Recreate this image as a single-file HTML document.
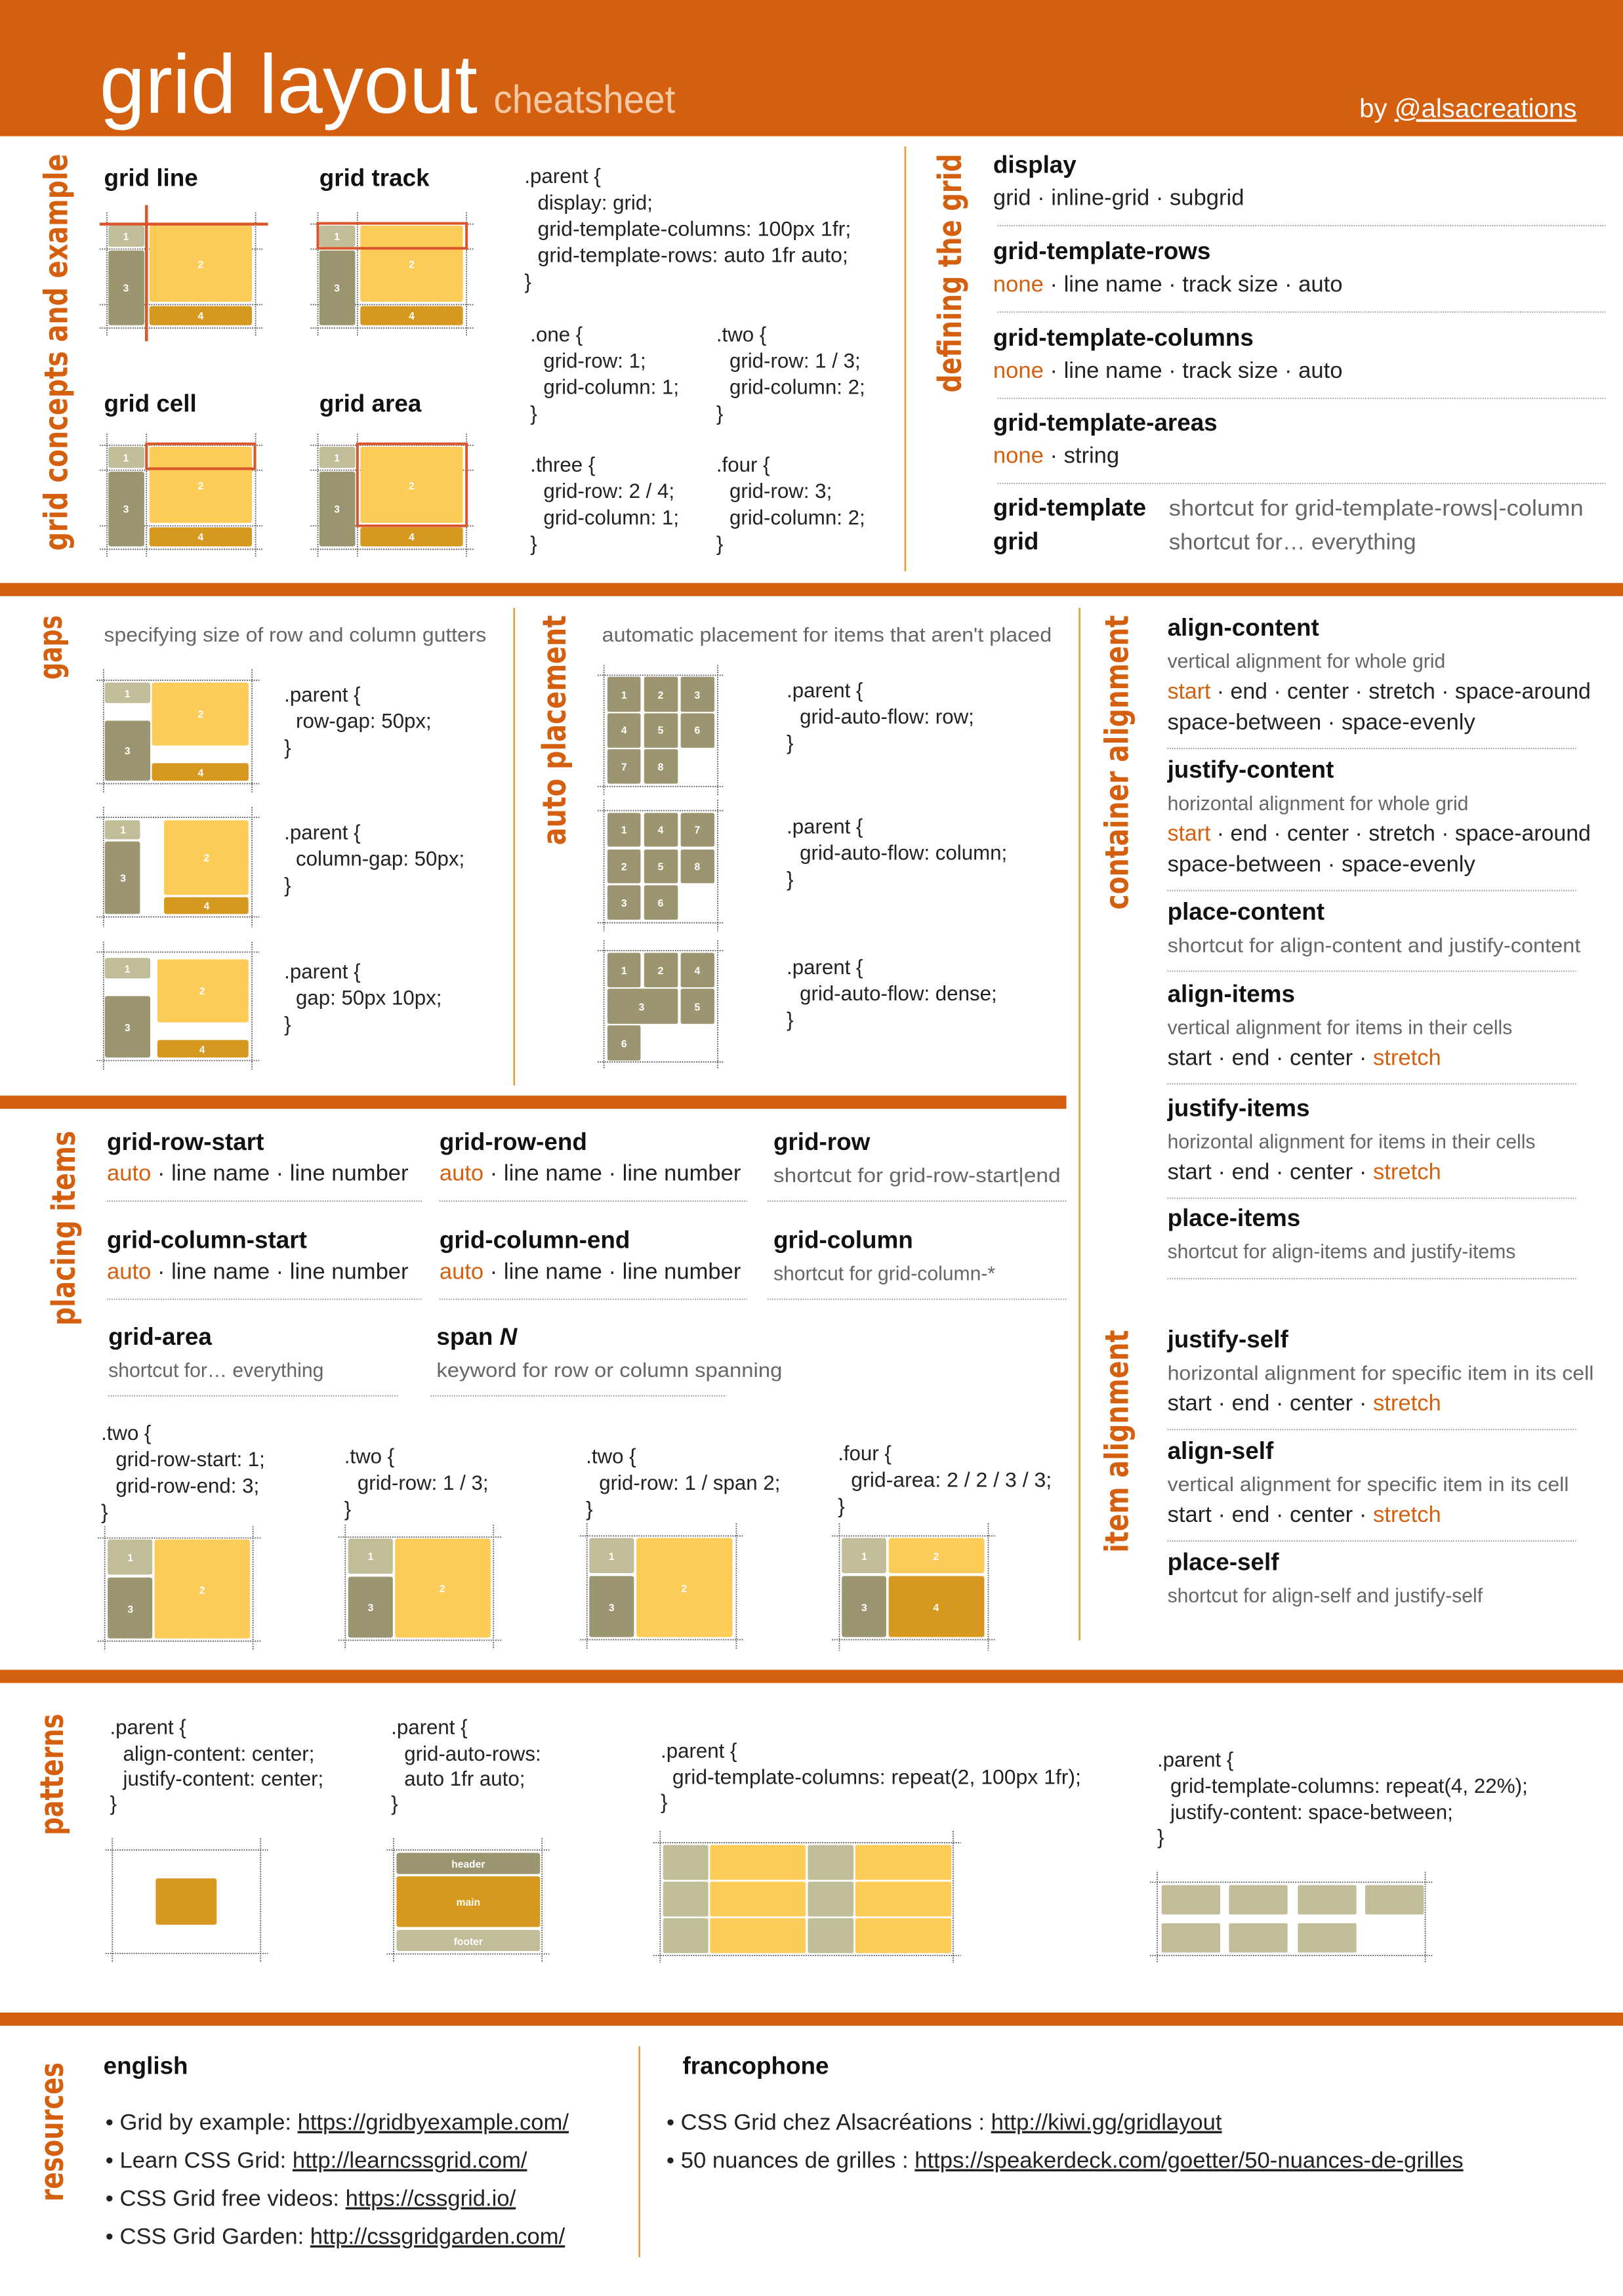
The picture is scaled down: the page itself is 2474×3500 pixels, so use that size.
<!DOCTYPE html>
<html><head><meta charset="utf-8"><style>
html,body{margin:0;padding:0;background:#fff;}
svg{display:block}
.h{font-family:"Liberation Sans",sans-serif;font-weight:bold;font-size:16.5px;fill:#111}
.v{font-family:"Liberation Sans",sans-serif;font-size:15.5px;fill:#222}
.d{font-family:"Liberation Sans",sans-serif;font-size:13.5px;fill:#666}
.c{font-family:"Liberation Sans",sans-serif;font-size:14px;fill:#222}
.o{fill:#d4600f}
.lab{font-family:"DejaVu Sans",sans-serif;font-weight:bold;font-size:22px;fill:#d4600f}
.n{font-family:"Liberation Sans",sans-serif;font-weight:bold;font-size:7px;fill:#fff;text-anchor:middle}
.dl{stroke:#555;stroke-width:0.8;stroke-dasharray:0.8 0.8;fill:none}
.sep{stroke:#888;stroke-width:0.8;stroke-dasharray:0.7 0.9;fill:none}
.a{fill:#c0bd98}.b{fill:#9b9570}.y{fill:#fdcb58}.m{fill:#d7981f}
.r{stroke:#d9562a;stroke-width:1.8;fill:none}
.dv{stroke:#e2a03c;stroke-width:1.2}
</style></head><body>
<svg width="2474" height="3500" viewBox="0 0 1108 1567.5" xmlns="http://www.w3.org/2000/svg">
<!-- header -->
<rect x="0" y="0" width="1108" height="93" fill="#d4600f"/>
<text x="68" y="77" font-family="Liberation Sans,sans-serif" font-size="57" fill="#fff" textLength="258" lengthAdjust="spacingAndGlyphs">grid layout</text>
<text x="337" y="77" font-family="Liberation Sans,sans-serif" font-size="27" fill="#f5c9a6" textLength="124" lengthAdjust="spacingAndGlyphs">cheatsheet</text>
<text x="928" y="80" font-family="Liberation Sans,sans-serif" font-size="18" fill="#fff">by <tspan text-decoration="underline">@alsacreations</tspan></text>

<!-- bars -->
<rect x="0" y="398" width="1108" height="9" fill="#d4600f"/>
<rect x="0" y="748" width="728" height="9" fill="#d4600f"/>
<rect x="0" y="1140" width="1108" height="9" fill="#d4600f"/>
<rect x="0" y="1374" width="1108" height="9" fill="#d4600f"/>

<!-- dividers -->
<line class="dv" x1="618" y1="100" x2="618" y2="390"/>
<line class="dv" x1="351" y1="415" x2="351" y2="741"/>
<line class="dv" x1="737" y1="415" x2="737" y2="1120"/>
<line class="dv" x1="436.5" y1="1397" x2="436.5" y2="1541"/>

<!-- vertical labels -->
<text class="lab" transform="translate(46,376) rotate(-90)" textLength="271" lengthAdjust="spacingAndGlyphs">grid concepts and example</text>
<text class="lab" transform="translate(656,268) rotate(-90)" textLength="163" lengthAdjust="spacingAndGlyphs">defining the grid</text>
<text class="lab" transform="translate(42,464) rotate(-90)" textLength="44" lengthAdjust="spacingAndGlyphs">gaps</text>
<text class="lab" transform="translate(386,577) rotate(-90)" textLength="157" lengthAdjust="spacingAndGlyphs">auto placement</text>
<text class="lab" transform="translate(770,621) rotate(-90)" textLength="201" lengthAdjust="spacingAndGlyphs">container alignment</text>
<text class="lab" transform="translate(770,1060) rotate(-90)" textLength="152" lengthAdjust="spacingAndGlyphs">item alignment</text>
<text class="lab" transform="translate(51,905) rotate(-90)" textLength="133" lengthAdjust="spacingAndGlyphs">placing items</text>
<text class="lab" transform="translate(43,1253) rotate(-90)" textLength="83" lengthAdjust="spacingAndGlyphs">patterns</text>
<text class="lab" transform="translate(43,1503) rotate(-90)" textLength="95" lengthAdjust="spacingAndGlyphs">resources</text>

<!-- concept diagrams -->
<text class="h" x="71" y="127">grid line</text>
<text class="h" x="218" y="127">grid track</text>
<text class="h" x="71" y="281">grid cell</text>
<text class="h" x="218" y="281">grid area</text>

<g id="c1">
<path class="dl" d="M73 145V229M100 145V229M174.5 145V229M68 153H180M68 170H180M68 208H180M68 224H180"/>
<rect class="a" x="74" y="154" width="24.5" height="14.5" rx="1.5"/><text class="n" x="86" y="164">1</text>
<rect class="y" x="102" y="154" width="70" height="52" rx="1.5"/><text class="n" x="137" y="183">2</text>
<rect class="b" x="74" y="171" width="24.5" height="51" rx="1.5"/><text class="n" x="86" y="199">3</text>
<rect class="m" x="102" y="209" width="70" height="13" rx="1.5"/><text class="n" x="137" y="218">4</text>
<path d="M100 140V233M68 153H183" stroke="#d9562a" stroke-width="2"/>
</g>
<g transform="translate(144,0)">
<path class="dl" d="M73 145V229M100 145V229M174.5 145V229M68 153H180M68 170H180M68 208H180M68 224H180"/>
<rect class="a" x="74" y="154" width="24.5" height="14.5" rx="1.5"/><text class="n" x="86" y="164">1</text>
<rect class="y" x="102" y="154" width="70" height="52" rx="1.5"/><text class="n" x="137" y="183">2</text>
<rect class="b" x="74" y="171" width="24.5" height="51" rx="1.5"/><text class="n" x="86" y="199">3</text>
<rect class="m" x="102" y="209" width="70" height="13" rx="1.5"/><text class="n" x="137" y="218">4</text>
<rect class="r" x="73" y="152.5" width="101.5" height="17"/>
</g>
<g transform="translate(0,151)">
<path class="dl" d="M73 145V229M100 145V229M174.5 145V229M68 153H180M68 170H180M68 208H180M68 224H180"/>
<rect class="a" x="74" y="154" width="24.5" height="14.5" rx="1.5"/><text class="n" x="86" y="164">1</text>
<rect class="y" x="102" y="154" width="70" height="52" rx="1.5"/><text class="n" x="137" y="183">2</text>
<rect class="b" x="74" y="171" width="24.5" height="51" rx="1.5"/><text class="n" x="86" y="199">3</text>
<rect class="m" x="102" y="209" width="70" height="13" rx="1.5"/><text class="n" x="137" y="218">4</text>
<rect class="r" x="100" y="152" width="74" height="17"/>
</g>
<g transform="translate(144,151)">
<path class="dl" d="M73 145V229M100 145V229M174.5 145V229M68 153H180M68 170H180M68 208H180M68 224H180"/>
<rect class="a" x="74" y="154" width="24.5" height="14.5" rx="1.5"/><text class="n" x="86" y="164">1</text>
<rect class="y" x="102" y="154" width="70" height="52" rx="1.5"/><text class="n" x="137" y="183">2</text>
<rect class="b" x="74" y="171" width="24.5" height="51" rx="1.5"/><text class="n" x="86" y="199">3</text>
<rect class="m" x="102" y="209" width="70" height="13" rx="1.5"/><text class="n" x="137" y="218">4</text>
<rect class="r" x="100" y="152" width="74.5" height="56"/>
</g>

<!-- concept code -->
<text class="c" x="358" y="125">.parent {</text>
<text class="c" x="367" y="143">display: grid;</text>
<text class="c" x="367" y="161" textLength="214" lengthAdjust="spacingAndGlyphs">grid-template-columns: 100px 1fr;</text>
<text class="c" x="367" y="179" textLength="212" lengthAdjust="spacingAndGlyphs">grid-template-rows: auto 1fr auto;</text>
<text class="c" x="358" y="197">}</text>
<text class="c" x="362" y="233">.one {</text>
<text class="c" x="371" y="251">grid-row: 1;</text>
<text class="c" x="371" y="269">grid-column: 1;</text>
<text class="c" x="362" y="287">}</text>
<text class="c" x="489" y="233">.two {</text>
<text class="c" x="498" y="251">grid-row: 1 / 3;</text>
<text class="c" x="498" y="269">grid-column: 2;</text>
<text class="c" x="489" y="287">}</text>
<text class="c" x="362" y="322">.three {</text>
<text class="c" x="371" y="340">grid-row: 2 / 4;</text>
<text class="c" x="371" y="358">grid-column: 1;</text>
<text class="c" x="362" y="376">}</text>
<text class="c" x="489" y="322">.four {</text>
<text class="c" x="498" y="340">grid-row: 3;</text>
<text class="c" x="498" y="358">grid-column: 2;</text>
<text class="c" x="489" y="376">}</text>

<!-- defining the grid -->
<text class="h" x="678" y="118">display</text>
<text class="v" x="678" y="140">grid · inline-grid · subgrid</text>
<line class="sep" x1="681" y1="154" x2="1096" y2="154"/>
<text class="h" x="678" y="177">grid-template-rows</text>
<text class="v" x="678" y="199"><tspan class="o">none</tspan> · line name · track size · auto</text>
<line class="sep" x1="681" y1="213" x2="1096" y2="213"/>
<text class="h" x="678" y="236">grid-template-columns</text>
<text class="v" x="678" y="258"><tspan class="o">none</tspan> · line name · track size · auto</text>
<line class="sep" x1="681" y1="272" x2="1096" y2="272"/>
<text class="h" x="678" y="294">grid-template-areas</text>
<text class="v" x="678" y="316"><tspan class="o">none</tspan> · string</text>
<line class="sep" x1="681" y1="330" x2="1096" y2="330"/>
<text class="h" x="678" y="352">grid-template</text>
<text class="v" x="798" y="352" fill="#666" style="fill:#666" textLength="283" lengthAdjust="spacingAndGlyphs">shortcut for grid-template-rows|-column</text>
<text class="h" x="678" y="375">grid</text>
<text class="v" x="798" y="375" style="fill:#666">shortcut for… everything</text>

<!-- gaps -->
<text class="d" x="71" y="438" textLength="261" lengthAdjust="spacingAndGlyphs">specifying size of row and column gutters</text>
<path class="dl" d="M70.7 457V541M172 457V541M66 464.4H177M66 535H177"/>
<rect class="a" x="71.6" y="466" width="31" height="14" rx="1.5"/><text class="n" x="87" y="476">1</text>
<rect class="y" x="103.7" y="466" width="66" height="43" rx="1.5"/><text class="n" x="137" y="490">2</text>
<rect class="b" x="71.6" y="492" width="31" height="41" rx="1.5"/><text class="n" x="87" y="515">3</text>
<rect class="m" x="103.7" y="521" width="66" height="12" rx="1.5"/><text class="n" x="137" y="530">4</text>
<text class="c" x="194" y="479">.parent {</text>
<text class="c" x="202" y="497">row-gap: 50px;</text>
<text class="c" x="194" y="515">}</text>

<path class="dl" d="M70.7 551V633M172 551V633M66 558H177M66 626H177"/>
<rect class="a" x="71.6" y="560" width="24" height="13" rx="1.5"/><text class="n" x="84" y="569">1</text>
<rect class="b" x="71.6" y="574.5" width="24" height="49.5" rx="1.5"/><text class="n" x="84" y="602">3</text>
<rect class="y" x="112" y="560" width="57.6" height="51" rx="1.5"/><text class="n" x="141" y="588">2</text>
<rect class="m" x="112" y="612.5" width="57.6" height="11.5" rx="1.5"/><text class="n" x="141" y="621">4</text>
<text class="c" x="194" y="573">.parent {</text>
<text class="c" x="202" y="591">column-gap: 50px;</text>
<text class="c" x="194" y="609">}</text>

<path class="dl" d="M70.7 643V731M172 643V731M66 650H177M66 724H177"/>
<rect class="a" x="71.6" y="654" width="31" height="14" rx="1.5"/><text class="n" x="87" y="664">1</text>
<rect class="y" x="107.4" y="655" width="62.2" height="43" rx="1.5"/><text class="n" x="138" y="679">2</text>
<rect class="b" x="71.6" y="680" width="31" height="42" rx="1.5"/><text class="n" x="87" y="704">3</text>
<rect class="m" x="107.4" y="710" width="62.2" height="12" rx="1.5"/><text class="n" x="138" y="719">4</text>
<text class="c" x="194" y="668">.parent {</text>
<text class="c" x="202" y="686">gap: 50px 10px;</text>
<text class="c" x="194" y="704">}</text>

<!-- auto placement -->
<text class="d" x="411" y="438" textLength="307" lengthAdjust="spacingAndGlyphs">automatic placement for items that aren't placed</text>
<path class="dl" d="M412.3 454V543M490 454V543M408 461H494M408 537H494"/>
<rect class="b" x="414.7" y="462" width="22.6" height="24" rx="1.2"/><text class="n" x="426" y="477">1</text>
<rect class="b" x="439.7" y="462" width="23.1" height="24" rx="1.2"/><text class="n" x="451" y="477">2</text>
<rect class="b" x="464.7" y="462" width="23" height="24" rx="1.2"/><text class="n" x="476" y="477">3</text>
<rect class="b" x="414.7" y="487" width="22.6" height="23.5" rx="1.2"/><text class="n" x="426" y="501">4</text>
<rect class="b" x="439.7" y="487" width="23.1" height="23.5" rx="1.2"/><text class="n" x="451" y="501">5</text>
<rect class="b" x="464.7" y="487" width="23" height="23.5" rx="1.2"/><text class="n" x="476" y="501">6</text>
<rect class="b" x="414.7" y="511.5" width="22.6" height="23.5" rx="1.2"/><text class="n" x="426" y="526">7</text>
<rect class="b" x="439.7" y="511.5" width="23.1" height="23.5" rx="1.2"/><text class="n" x="451" y="526">8</text>
<text class="c" x="537" y="476">.parent {</text>
<text class="c" x="546" y="494">grid-auto-flow: row;</text>
<text class="c" x="537" y="512">}</text>

<path class="dl" d="M412.3 546V636M490 546V636M408 553.4H494M408 630H494"/>
<rect class="b" x="414.7" y="555" width="22.6" height="23" rx="1.2"/><text class="n" x="426" y="569">1</text>
<rect class="b" x="439.7" y="555" width="23.1" height="23" rx="1.2"/><text class="n" x="451" y="569">4</text>
<rect class="b" x="464.7" y="555" width="23" height="23" rx="1.2"/><text class="n" x="476" y="569">7</text>
<rect class="b" x="414.7" y="580" width="22.6" height="23" rx="1.2"/><text class="n" x="426" y="594">2</text>
<rect class="b" x="439.7" y="580" width="23.1" height="23" rx="1.2"/><text class="n" x="451" y="594">5</text>
<rect class="b" x="464.7" y="580" width="23" height="23" rx="1.2"/><text class="n" x="476" y="594">8</text>
<rect class="b" x="414.7" y="604.4" width="22.6" height="23.5" rx="1.2"/><text class="n" x="426" y="619">3</text>
<rect class="b" x="439.7" y="604.4" width="23.1" height="23.5" rx="1.2"/><text class="n" x="451" y="619">6</text>
<text class="c" x="537" y="569">.parent {</text>
<text class="c" x="546" y="587">grid-auto-flow: column;</text>
<text class="c" x="537" y="605">}</text>

<path class="dl" d="M412.3 642V730M490 642V730M408 649H494M408 725H494"/>
<rect class="b" x="414.7" y="650.5" width="22.6" height="23.5" rx="1.2"/><text class="n" x="426" y="665">1</text>
<rect class="b" x="439.7" y="650.5" width="23.1" height="23.5" rx="1.2"/><text class="n" x="451" y="665">2</text>
<rect class="b" x="464.7" y="650.5" width="23" height="23.5" rx="1.2"/><text class="n" x="476" y="665">4</text>
<rect class="b" x="414.7" y="675" width="48.1" height="24" rx="1.2"/><text class="n" x="438" y="690">3</text>
<rect class="b" x="464.7" y="675" width="23" height="24" rx="1.2"/><text class="n" x="476" y="690">5</text>
<rect class="b" x="414.7" y="700" width="22.6" height="24" rx="1.2"/><text class="n" x="426" y="715">6</text>
<text class="c" x="537" y="665">.parent {</text>
<text class="c" x="546" y="683">grid-auto-flow: dense;</text>
<text class="c" x="537" y="701">}</text>

<!-- container alignment -->
<text class="h" x="797" y="434">align-content</text>
<text class="d" x="797" y="456">vertical alignment for whole grid</text>
<text class="v" x="797" y="477" textLength="289" lengthAdjust="spacingAndGlyphs"><tspan class="o">start</tspan> · end · center · stretch · space-around</text>
<text class="v" x="797" y="498">space-between · space-evenly</text>
<line class="sep" x1="797" y1="511" x2="1076" y2="511"/>
<text class="h" x="797" y="531">justify-content</text>
<text class="d" x="797" y="553">horizontal alignment for whole grid</text>
<text class="v" x="797" y="574" textLength="289" lengthAdjust="spacingAndGlyphs"><tspan class="o">start</tspan> · end · center · stretch · space-around</text>
<text class="v" x="797" y="595">space-between · space-evenly</text>
<line class="sep" x1="797" y1="608" x2="1076" y2="608"/>
<text class="h" x="797" y="628">place-content</text>
<text class="d" x="797" y="650" textLength="282" lengthAdjust="spacingAndGlyphs">shortcut for align-content and justify-content</text>
<line class="sep" x1="797" y1="663" x2="1076" y2="663"/>
<text class="h" x="797" y="684">align-items</text>
<text class="d" x="797" y="706">vertical alignment for items in their cells</text>
<text class="v" x="797" y="727">start · end · center · <tspan class="o">stretch</tspan></text>
<line class="sep" x1="797" y1="740" x2="1076" y2="740"/>
<text class="h" x="797" y="762">justify-items</text>
<text class="d" x="797" y="784">horizontal alignment for items in their cells</text>
<text class="v" x="797" y="805">start · end · center · <tspan class="o">stretch</tspan></text>
<line class="sep" x1="797" y1="818" x2="1076" y2="818"/>
<text class="h" x="797" y="837">place-items</text>
<text class="d" x="797" y="859">shortcut for align-items and justify-items</text>
<line class="sep" x1="797" y1="873" x2="1076" y2="873"/>
<text class="h" x="797" y="920">justify-self</text>
<text class="d" x="797" y="942" textLength="291" lengthAdjust="spacingAndGlyphs">horizontal alignment for specific item in its cell</text>
<text class="v" x="797" y="963">start · end · center · <tspan class="o">stretch</tspan></text>
<line class="sep" x1="797" y1="976" x2="1076" y2="976"/>
<text class="h" x="797" y="996">align-self</text>
<text class="d" x="797" y="1018" textLength="274" lengthAdjust="spacingAndGlyphs">vertical alignment for specific item in its cell</text>
<text class="v" x="797" y="1039">start · end · center · <tspan class="o">stretch</tspan></text>
<line class="sep" x1="797" y1="1052" x2="1076" y2="1052"/>
<text class="h" x="797" y="1072">place-self</text>
<text class="d" x="797" y="1094">shortcut for align-self and justify-self</text>

<!-- placing items -->
<text class="h" x="73" y="785">grid-row-start</text>
<text class="v" x="73" y="806"><tspan class="o">auto</tspan> · line name · line number</text>
<line class="sep" x1="73" y1="820" x2="288" y2="820"/>
<text class="h" x="300" y="785">grid-row-end</text>
<text class="v" x="300" y="806"><tspan class="o">auto</tspan> · line name · line number</text>
<line class="sep" x1="300" y1="820" x2="510" y2="820"/>
<text class="h" x="528" y="785">grid-row</text>
<text class="d" x="528" y="807" textLength="196" lengthAdjust="spacingAndGlyphs">shortcut for grid-row-start|end</text>
<line class="sep" x1="524" y1="820" x2="728" y2="820"/>
<text class="h" x="73" y="852">grid-column-start</text>
<text class="v" x="73" y="873"><tspan class="o">auto</tspan> · line name · line number</text>
<line class="sep" x1="73" y1="887" x2="288" y2="887"/>
<text class="h" x="300" y="852">grid-column-end</text>
<text class="v" x="300" y="873"><tspan class="o">auto</tspan> · line name · line number</text>
<line class="sep" x1="300" y1="887" x2="510" y2="887"/>
<text class="h" x="528" y="852">grid-column</text>
<text class="d" x="528" y="874">shortcut for grid-column-*</text>
<line class="sep" x1="524" y1="887" x2="728" y2="887"/>
<text class="h" x="74" y="918">grid-area</text>
<text class="d" x="74" y="940">shortcut for… everything</text>
<line class="sep" x1="74" y1="953" x2="272" y2="953"/>
<text class="h" x="298" y="918">span <tspan font-style="italic">N</tspan></text>
<text class="d" x="298" y="940" textLength="236" lengthAdjust="spacingAndGlyphs">keyword for row or column spanning</text>
<line class="sep" x1="294" y1="953" x2="496" y2="953"/>

<text class="c" x="69" y="983">.two {</text>
<text class="c" x="79" y="1001">grid-row-start: 1;</text>
<text class="c" x="79" y="1019">grid-row-end: 3;</text>
<text class="c" x="69" y="1037">}</text>
<text class="c" x="235" y="999">.two {</text>
<text class="c" x="244" y="1017">grid-row: 1 / 3;</text>
<text class="c" x="235" y="1035">}</text>
<text class="c" x="400" y="999">.two {</text>
<text class="c" x="409" y="1017">grid-row: 1 / span 2;</text>
<text class="c" x="400" y="1035">}</text>
<text class="c" x="572" y="997">.four {</text>
<text class="c" x="581" y="1015" textLength="137" lengthAdjust="spacingAndGlyphs">grid-area: 2 / 2 / 3 / 3;</text>
<text class="c" x="572" y="1033">}</text>

<path class="dl" d="M71.5 1042V1127M172.7 1042V1127M66.7 1050H178.7M66.7 1120.4H178.7"/>
<rect class="a" x="73.5" y="1051" width="30.5" height="24" rx="1.5"/><text class="n" x="89" y="1066">1</text>
<rect class="b" x="73.5" y="1077" width="30.5" height="41.6" rx="1.5"/><text class="n" x="89" y="1101">3</text>
<rect class="y" x="105.5" y="1051" width="65.2" height="67.6" rx="1.5"/><text class="n" x="138" y="1088">2</text>

<path class="dl" d="M235.7 1041V1126M336.9 1041V1126M231 1049.4H343M231 1119.8H343"/>
<rect class="a" x="237.7" y="1050.4" width="30.5" height="24" rx="1.5"/><text class="n" x="253" y="1065">1</text>
<rect class="b" x="237.7" y="1076.4" width="30.5" height="41.6" rx="1.5"/><text class="n" x="253" y="1100">3</text>
<rect class="y" x="269.7" y="1050.4" width="65.2" height="67.6" rx="1.5"/><text class="n" x="302" y="1087">2</text>

<path class="dl" d="M400.7 1040V1126M502.7 1040V1126M396 1048.6H508M396 1119.4H508"/>
<rect class="a" x="402.3" y="1050" width="30.5" height="24" rx="1.5"/><text class="n" x="417.5" y="1065">1</text>
<rect class="b" x="402.3" y="1076" width="30.5" height="41.6" rx="1.5"/><text class="n" x="417.5" y="1100">3</text>
<rect class="y" x="434.5" y="1050" width="65.5" height="67.6" rx="1.5"/><text class="n" x="467" y="1087">2</text>

<path class="dl" d="M573 1040V1127M674.7 1040V1127M568 1048.6H680M568 1119.4H680"/>
<rect class="a" x="574.7" y="1050" width="30.3" height="24" rx="1.5"/><text class="n" x="590" y="1065">1</text>
<rect class="y" x="606.7" y="1050" width="65.3" height="24" rx="1.5"/><text class="n" x="639" y="1065">2</text>
<rect class="b" x="574.7" y="1076" width="30.3" height="41.6" rx="1.5"/><text class="n" x="590" y="1100">3</text>
<rect class="m" x="606.7" y="1076" width="65.3" height="41.6" rx="1.5"/><text class="n" x="639" y="1100">4</text>

<!-- patterns -->
<text class="c" x="75" y="1184">.parent {</text>
<text class="c" x="84" y="1202">align-content: center;</text>
<text class="c" x="84" y="1219">justify-content: center;</text>
<text class="c" x="75" y="1236">}</text>
<text class="c" x="267" y="1184">.parent {</text>
<text class="c" x="276" y="1202">grid-auto-rows:</text>
<text class="c" x="276" y="1219">auto 1fr auto;</text>
<text class="c" x="267" y="1236">}</text>
<text class="c" x="451" y="1200">.parent {</text>
<text class="c" x="459" y="1218" textLength="279" lengthAdjust="spacingAndGlyphs">grid-template-columns: repeat(2, 100px 1fr);</text>
<text class="c" x="451" y="1235">}</text>
<text class="c" x="790" y="1206">.parent {</text>
<text class="c" x="799" y="1224" textLength="244" lengthAdjust="spacingAndGlyphs">grid-template-columns: repeat(4, 22%);</text>
<text class="c" x="799" y="1242">justify-content: space-between;</text>
<text class="c" x="790" y="1259">}</text>

<path class="dl" d="M76.7 1255V1340M177.9 1255V1340M72 1263H183M72 1333.6H183"/>
<rect class="m" x="106.3" y="1282.4" width="41.6" height="31.6" rx="1.5"/>

<path class="dl" d="M268.7 1255V1340M370 1255V1340M264 1263H375M264 1334H375"/>
<rect class="b" x="270.7" y="1265" width="98" height="14.4" rx="1.5"/><text class="n" x="319.7" y="1275">header</text>
<rect class="m" x="270.7" y="1281" width="98" height="34.6" rx="1.5"/><text class="n" x="319.7" y="1301">main</text>
<rect class="a" x="270.7" y="1317.6" width="98" height="14.4" rx="1.5"/><text class="n" x="319.7" y="1328">footer</text>

<path class="dl" d="M450.7 1250V1340M650.7 1250V1340M446 1258H656M446 1335H656"/>
<g>
<rect class="a" x="452.7" y="1259.6" width="30.8" height="23.8" rx="1.2"/><rect class="y" x="484.7" y="1259.6" width="65.3" height="23.8" rx="1.2"/><rect class="a" x="551.5" y="1259.6" width="31.2" height="23.8" rx="1.2"/><rect class="y" x="583.9" y="1259.6" width="65.6" height="23.8" rx="1.2"/>
<rect class="a" x="452.7" y="1284.6" width="30.8" height="23.8" rx="1.2"/><rect class="y" x="484.7" y="1284.6" width="65.3" height="23.8" rx="1.2"/><rect class="a" x="551.5" y="1284.6" width="31.2" height="23.8" rx="1.2"/><rect class="y" x="583.9" y="1284.6" width="65.6" height="23.8" rx="1.2"/>
<rect class="a" x="452.7" y="1309.6" width="30.8" height="23.8" rx="1.2"/><rect class="y" x="484.7" y="1309.6" width="65.3" height="23.8" rx="1.2"/><rect class="a" x="551.5" y="1309.6" width="31.2" height="23.8" rx="1.2"/><rect class="y" x="583.9" y="1309.6" width="65.6" height="23.8" rx="1.2"/>
</g>

<path class="dl" d="M790 1278V1340M973 1278V1340M785 1285H978M785 1335H978"/>
<rect class="a" x="793" y="1287" width="40" height="20" rx="1"/><rect class="a" x="839" y="1287" width="40" height="20" rx="1"/><rect class="a" x="886" y="1287" width="40" height="20" rx="1"/><rect class="a" x="932" y="1287" width="40" height="20" rx="1"/>
<rect class="a" x="793" y="1313" width="40" height="20" rx="1"/><rect class="a" x="839" y="1313" width="40" height="20" rx="1"/><rect class="a" x="886" y="1313" width="40" height="20" rx="1"/>

<!-- resources -->
<text class="h" x="70.6" y="1416">english</text>
<text class="h" x="466" y="1416">francophone</text>
<g class="v" font-size="16">
<text class="v" x="72" y="1454">• Grid by example: <tspan text-decoration="underline">https://gridbyexample.com/</tspan></text>
<text class="v" x="72" y="1480">• Learn CSS Grid: <tspan text-decoration="underline">http://learncssgrid.com/</tspan></text>
<text class="v" x="72" y="1506">• CSS Grid free videos: <tspan text-decoration="underline">https://cssgrid.io/</tspan></text>
<text class="v" x="72" y="1532">• CSS Grid Garden: <tspan text-decoration="underline">http://cssgridgarden.com/</tspan></text>
<text class="v" x="455" y="1454">• CSS Grid chez Alsacréations : <tspan text-decoration="underline">http://kiwi.gg/gridlayout</tspan></text>
<text class="v" x="455" y="1480" textLength="544" lengthAdjust="spacingAndGlyphs">• 50 nuances de grilles : <tspan text-decoration="underline">https://speakerdeck.com/goetter/50-nuances-de-grilles</tspan></text>
</g>
</svg>
</body></html>
